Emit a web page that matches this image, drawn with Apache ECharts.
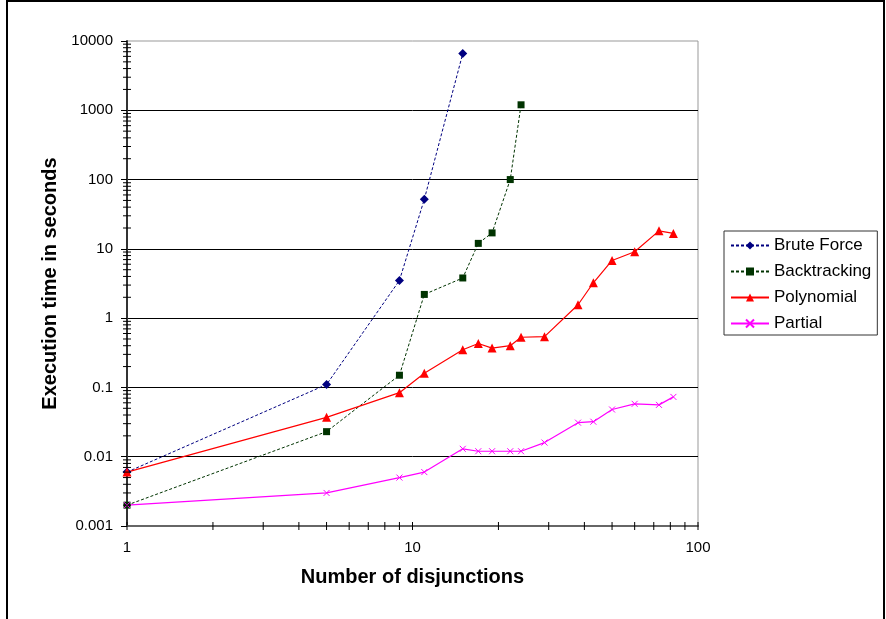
<!DOCTYPE html>
<html>
<head>
    <meta charset="utf-8">
    <title>Execution time</title>
    <script src="https://cdn.jsdelivr.net/npm/echarts@6/dist/echarts.min.js"></script>
    <style>
        html, body { margin: 0; padding: 0; background: #fff; }
    </style>
</head>
<body>
<div id="main" style="width: 886px;height:619px;"></div>
<script type="text/javascript">
    // data
    var bruteX = [1, 5, 9, 11, 15];
    var bruteY = [0.006, 0.11, 3.5, 52, 6600];
    var backX = [1, 5, 9, 11, 15, 17, 19, 22, 24];
    var backY = [0.002, 0.023, 0.15, 2.2, 3.8, 12, 17, 100, 1200];
    var polyX = [1, 5, 9, 11, 15, 17, 19, 22, 24, 29, 38, 43, 50, 60, 73, 82];
    var polyY = [0.006, 0.037, 0.084, 0.16, 0.35, 0.43, 0.37, 0.40, 0.53, 0.54, 1.56, 3.24, 6.8, 9.1, 18.2, 16.7];
    var partX = [1, 5, 9, 11, 15, 17, 19, 22, 24, 29, 38, 43, 50, 60, 73, 82];
    var partY = [0.002, 0.003, 0.005, 0.006, 0.013, 0.012, 0.012, 0.012, 0.012, 0.016, 0.031, 0.032, 0.048, 0.058, 0.056, 0.073];

    var yTickLabels = ['0.001', '0.01', '0.1', '1', '10', '100', '1000', '10000'];
    var xTickLabels = ['1', '10', '100'];
    var xDecades = [1, 10];
    var yDecades = [0.001, 0.01, 0.1, 1, 10, 100, 1000];
    var minorSteps = [2, 3, 4, 5, 6, 7, 8, 9];

    function pairs(xs, ys) {
        return xs.map(function (x, i) { return [x, ys[i]]; });
    }

    // small tick marks (Excel style log minor ticks)
    var tickData = [];
    xDecades.forEach(function (d) {
        tickData.push([d, 0.001, 0]);
        minorSteps.forEach(function (m) { tickData.push([d * m, 0.001, 0]); });
    });
    tickData.push([100, 0.001, 0]);
    yDecades.forEach(function (d) {
        minorSteps.forEach(function (m) { tickData.push([1, +(d * m).toPrecision(3), 1]); });
    });

    var font = 'Liberation Sans, Arial, sans-serif';
    var myChart = echarts.init(document.getElementById('main'));
    var option = {
        animation: false,
        backgroundColor: '#fff',
        graphic: [{
            type: 'rect',
            z: -10,
            shape: {x: 7, y: 1, width: 877, height: 700},
            style: {fill: 'none', stroke: '#000', lineWidth: 2}
        }],
        grid: {
            left: 127, top: 41, right: 188, bottom: 93,
            show: true, borderColor: '#999', borderWidth: 1
        },
        legend: {
            orient: 'vertical',
            left: 724, top: 231,
            data: ['Brute Force', 'Backtracking', 'Polynomial', 'Partial'],
            itemWidth: 38, itemHeight: 10, itemGap: 9,
            padding: [6, 6, 3, 6],
            borderColor: '#333', borderWidth: 1,
            textStyle: {fontFamily: font, fontSize: 17, color: '#000', lineHeight: 17}
        },
        xAxis: {
            type: 'log', logBase: 10, min: 1, max: 100, splitNumber: 2,
            name: 'Number of disjunctions', nameLocation: 'middle', nameGap: 41,
            nameTextStyle: {fontFamily: font, fontSize: 20, fontWeight: 'bold', color: '#000'},
            axisLine: {lineStyle: {color: '#666', width: 2}},
            axisTick: {show: false},
            axisLabel: {
                fontFamily: font, fontSize: 15, color: '#000', margin: 14,
                formatter: function (v, i) { return xTickLabels[i]; }
            },
            splitLine: {show: false}
        },
        yAxis: {
            type: 'log', logBase: 10, min: 0.001, max: 10000, splitNumber: 7,
            name: 'Execution time in seconds', nameLocation: 'middle', nameGap: 67,
            nameTextStyle: {fontFamily: font, fontSize: 20, fontWeight: 'bold', color: '#000'},
            axisLine: {lineStyle: {color: '#333', width: 2}},
            axisTick: {show: true, length: 6, lineStyle: {color: '#000', width: 1}},
            axisLabel: {
                fontFamily: font, fontSize: 15, color: '#000', margin: 14,
                formatter: function (v, i) { return yTickLabels[i]; }
            },
            splitLine: {show: true, showMinLine: false, showMaxLine: false, lineStyle: {color: '#000', width: 1}}
        },
        series: [
            {
                name: 'Brute Force', type: 'line', data: pairs(bruteX, bruteY),
                symbol: 'diamond', symbolSize: 9, z: 4,
                lineStyle: {color: '#000080', width: 1, type: [3, 2]},
                itemStyle: {color: '#000080'}
            },
            {
                name: 'Backtracking', type: 'line', data: pairs(backX, backY),
                symbol: 'rect', symbolSize: 7, z: 4,
                lineStyle: {color: '#003300', width: 1, type: [3, 2]},
                itemStyle: {color: '#003300'}
            },
            {
                name: 'Polynomial', type: 'line', data: pairs(polyX, polyY),
                symbol: 'triangle', symbolSize: 9, z: 4,
                lineStyle: {color: '#ff0000', width: 1.2},
                itemStyle: {color: '#ff0000'}
            },
            {
                name: 'Partial', type: 'line', data: pairs(partX, partY),
                symbol: 'path://M0,0L10,10M10,0L0,10', symbolSize: 6, z: 4,
                lineStyle: {color: '#ff00ff', width: 1.2},
                itemStyle: {color: 'none', borderColor: '#ff00ff', borderWidth: 1}
            },
            {
                name: 'ticks', type: 'custom', data: tickData, silent: true, z: 5,
                renderItem: function (params, api) {
                    var p = api.coord([api.value(0), api.value(1)]);
                    var shape = api.value(2) === 0
                        ? {x1: p[0], y1: p[1] - 4, x2: p[0], y2: p[1] + 4}
                        : {x1: p[0] - 4, y1: p[1], x2: p[0] + 4, y2: p[1]};
                    return {type: 'line', shape: shape, style: {stroke: '#000', lineWidth: 1}};
                }
            }
        ]
    };
    myChart.setOption(option);
</script>
</body>
</html>
